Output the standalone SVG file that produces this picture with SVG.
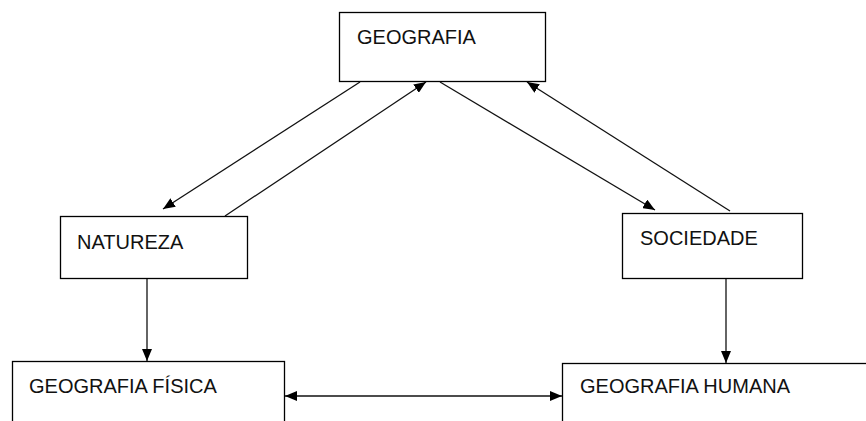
<svg xmlns="http://www.w3.org/2000/svg" width="866" height="421" viewBox="0 0 866 421">
<style>
.box{fill:#fff;stroke:#000;stroke-width:1.3}
.lbl{font-family:"Liberation Sans",Arial,sans-serif;font-size:20px;fill:#111}
.con{stroke:#111;stroke-width:1.3;fill:none}
</style>
<defs>
<marker id="ah" viewBox="0 0 12 10" refX="12" refY="5" markerWidth="12" markerHeight="10" markerUnits="userSpaceOnUse" orient="auto-start-reverse">
<path d="M0,0 L12,5 L0,10 z" fill="#000"/>
</marker>
</defs>
<rect width="866" height="421" fill="#fff"/>
<g id="geografia">
<rect class="box" x="339.5" y="12.5" width="206" height="69"/>
<text class="lbl" x="357" y="44">GEOGRAFIA</text>
</g>
<g id="natureza">
<rect class="box" x="60.5" y="216.5" width="187" height="62"/>
<text class="lbl" x="77" y="249">NATUREZA</text>
</g>
<g id="sociedade">
<rect class="box" x="622.5" y="213.5" width="180" height="65"/>
<text class="lbl" x="640" y="245">SOCIEDADE</text>
</g>
<g id="geografia-fisica">
<rect class="box" x="12.5" y="361.5" width="272" height="80"/>
<text class="lbl" x="29" y="393">GEOGRAFIA FÍSICA</text>
</g>
<g id="geografia-humana">
<rect class="box" x="562.5" y="363.5" width="320" height="80"/>
<text class="lbl" x="580" y="393">GEOGRAFIA HUMANA</text>
</g>
<g id="connectors">
<line class="con" x1="360" y1="82" x2="163" y2="209" marker-end="url(#ah)"/>
<line class="con" x1="225" y1="216" x2="426" y2="82" marker-end="url(#ah)"/>
<line class="con" x1="440" y1="82" x2="655" y2="210" marker-end="url(#ah)"/>
<line class="con" x1="730" y1="211" x2="527" y2="82" marker-end="url(#ah)"/>
<line class="con" x1="147" y1="279" x2="147" y2="361" marker-end="url(#ah)"/>
<line class="con" x1="726" y1="279" x2="726" y2="363" marker-end="url(#ah)"/>
<line class="con" x1="285" y1="396" x2="562" y2="396" marker-start="url(#ah)" marker-end="url(#ah)"/>
</g>
</svg>
